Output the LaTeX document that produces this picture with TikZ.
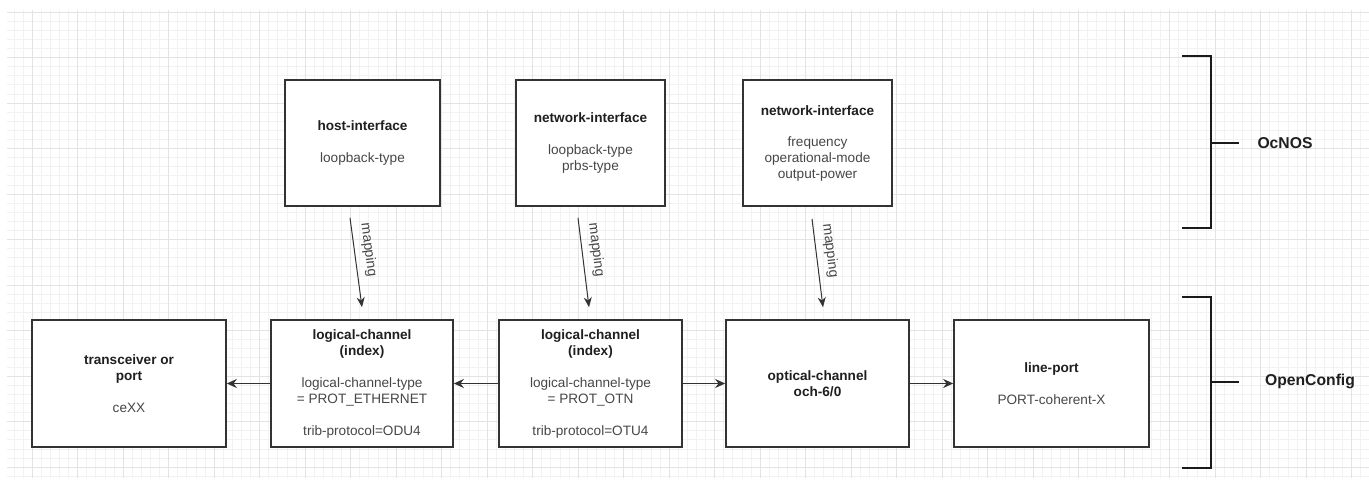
\documentclass[tikz,border=0pt]{standalone}
\usepackage{fontspec}
\setmainfont{Liberation Sans}
\usetikzlibrary{arrows.meta}

\definecolor{boxline}{HTML}{333333}
\definecolor{bracketline}{HTML}{1A1A1A}
\definecolor{titletext}{HTML}{1F1F1F}
\definecolor{bodytext}{HTML}{474747}
\definecolor{gridmajor}{HTML}{E3E3E3}
\definecolor{gridminor}{HTML}{F2F2F2}

\newcommand{\boxtitle}[1]{\textbf{\color{titletext}#1}}

\begin{document}
\begin{tikzpicture}[
    x=1pt, y=-1pt,
    box/.style={draw=boxline, line width=1.6pt, fill=white, align=center,
      inner sep=0pt, minimum height=127pt, text=bodytext,
      font=\fontsize{13.6}{16}\selectfont},
    maparrow/.style={draw=boxline, line width=1pt, -{Stealth[length=10pt, width=8pt]}},
    flowarrow/.style={draw=boxline, line width=1.7pt, -{Stealth[length=10pt, width=9pt]}},
    maplabel/.style={text=bodytext, font=\fontsize{14}{16}\selectfont, inner sep=2pt},
    bracket/.style={draw=bracketline, line width=2.4pt},
    sidelabel/.style={text=titletext, font=\fontsize{15.7}{18}\selectfont\bfseries}
  ]
  % background
  \fill [white] (0,0) rectangle (1369,486);
  \useasboundingbox (0,0) rectangle (1369,486);

  % grid
  \begin{scope}[shift={(32,12)}]
    \draw [gridminor, line width=0.6pt, step=9.1pt] (-25,466) grid (1337,-2);
    \draw [gridmajor, line width=0.8pt, step=45.5pt] (-25,466) grid (1337,-2);
  \end{scope}

  % OcNOS side
  \node [box, minimum width=155pt, minimum height=126pt] (hostIf) at (362.5,143)
    {\boxtitle{host-interface}\\[16pt]loopback-type};
  \node [box, minimum width=149pt, minimum height=126pt] (netIfA) at (590.5,143)
    {\boxtitle{network-interface}\\[16pt]loopback-type\\prbs-type};
  \node [box, minimum width=149pt, minimum height=126pt] (netIfB) at (817.5,143)
    {\boxtitle{network-interface}\\[15pt]frequency\\operational-mode\\output-power};

  % OpenConfig side
  \node [box, minimum width=194pt] (trans) at (129,383.5)
    {\boxtitle{transceiver or}\\\boxtitle{port}\\[16pt]ceXX};
  \node [box, minimum width=182pt] (lchA) at (362,383.5)
    {\boxtitle{logical-channel}\\\boxtitle{(index)}\\[16pt]logical-channel-type\\= PROT\_ETHERNET\\[16pt]trib-protocol=ODU4};
  \node [box, minimum width=183pt] (lchB) at (590.5,383.5)
    {\boxtitle{logical-channel}\\\boxtitle{(index)}\\[16pt]logical-channel-type\\= PROT\_OTN\\[16pt]trib-protocol=OTU4};
  \node [box, minimum width=183pt] (och) at (817.5,383.5)
    {\boxtitle{optical-channel}\\\boxtitle{och-6/0}};
  \node [box, minimum width=195pt] (port) at (1051.5,383.5)
    {\boxtitle{line-port}\\[16pt]PORT-coherent-X};

  % mapping arrows
  \draw [maparrow] ([xshift=-12.5pt, yshift=-11pt]hostIf.south) -- ([yshift=12pt]lchA.north)
    node [maplabel, pos=0.38, sloped, above=5pt] (mapA) {mapping};
  \draw [maparrow] ([xshift=-12.5pt, yshift=-11pt]netIfA.south) -- ([xshift=-1.5pt, yshift=12pt]lchB.north)
    node [maplabel, pos=0.38, sloped, above=5pt] (mapB) {mapping};
  \draw [maparrow] ([xshift=-5.5pt, yshift=-12pt]netIfB.south) -- ([xshift=5.5pt, yshift=12pt]och.north)
    node [maplabel, pos=0.38, sloped, above=5pt] (mapC) {mapping};

  % channel chain
  \draw [flowarrow] (lchA.west) -- (trans.east);
  \draw [flowarrow] (lchB.west) -- (lchA.east);
  \draw [flowarrow] (lchB.east) -- (och.west);
  \draw [flowarrow] (och.east) -- (port.west);

  % brackets
  \draw [bracket] (1182,56) -- (1211,56) -- (1211,228) -- (1182,228);
  \draw [bracket] (1211,143) -- (1239,143);
  \node [sidelabel] (ocnos) at (1285,143) {OcNOS};
  \draw [bracket] (1182,297) -- (1211,297) -- (1211,468) -- (1182,468);
  \draw [bracket] (1211,382) -- (1239,382);
  \node [sidelabel] (openconfig) at (1310,381) {OpenConfig};
\end{tikzpicture}
\end{document}
